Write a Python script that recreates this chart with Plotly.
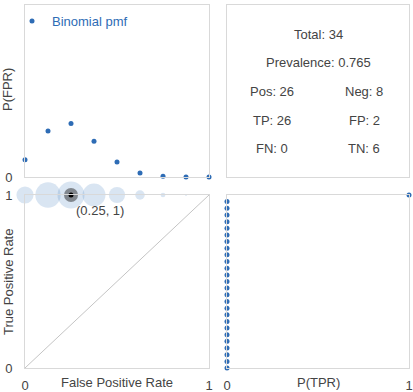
import plotly.graph_objects as go

# FPR grid (8 negatives) and its binomial pmf
fpr_vals = [0, 0.125, 0.25, 0.375, 0.5, 0.625, 0.75, 0.875, 1]
p_fpr = [0.100, 0.267, 0.311, 0.208, 0.087, 0.023, 0.004, 0.0004, 0.00002]

# TPR grid (26 positives) and its pmf
tpr_vals = [0, 0.038, 0.077, 0.115, 0.154, 0.192, 0.231, 0.269, 0.308, 0.346,
            0.385, 0.423, 0.462, 0.5, 0.538, 0.577, 0.615, 0.654, 0.692, 0.731,
            0.769, 0.808, 0.846, 0.885, 0.923, 0.962, 1]
p_tpr = [0, 0, 0, 0, 0, 0, 0, 0, 0, 0, 0, 0, 0, 0, 0, 0, 0, 0, 0, 0,
         0, 0, 0, 0, 0, 0, 1]

cur_point = (0.25, 1)
diag_x = [0, 1]
diag_y = [0, 1]

stat_left = ["Pos: 26", "TP: 26", "FN: 0"]
stat_right = ["Neg: 8", "FP: 2", "TN: 6"]
stat_top = ["Total: 34", "Prevalence: 0.765"]

BLUE = "#2e6cb5"
GRID = "#d9d9d9"
TXT = "#444"
FONT = "Arial"

W, H = 413, 392


def px_x(p):
    return p / W


def px_y(p):
    return 1 - p / H


fig = go.Figure()

# top left: P(FPR)
fig.add_trace(go.Scatter(
    x=fpr_vals, y=p_fpr, mode='markers', name='Binomial pmf',
    marker=dict(color=BLUE, size=5), cliponaxis=False,
    xaxis='x', yaxis='y', showlegend=True))

# bottom left: ROC space
fig.add_trace(go.Scatter(
    x=diag_x, y=diag_y, mode='lines', line=dict(color='#c4c4c4', width=1),
    xaxis='x3', yaxis='y3', showlegend=False, hoverinfo='skip'))

bx, by, bs = [], [], []
for i, fx in enumerate(fpr_vals):
    for j, ty in enumerate(tpr_vals):
        p = p_fpr[i] * p_tpr[j]
        if p > 0:
            bx.append(fx)
            by.append(ty)
            bs.append(43 * p ** 0.4)
fig.add_trace(go.Scatter(
    x=bx, y=by, mode='markers',
    marker=dict(color='rgba(60,120,190,0.28)', size=bs, line=dict(width=0)),
    cliponaxis=False, xaxis='x3', yaxis='y3', showlegend=False))
fig.add_trace(go.Scatter(
    x=[cur_point[0]], y=[cur_point[1]], mode='markers',
    marker=dict(color='rgba(40,40,40,0.5)', size=14, line=dict(width=0)),
    cliponaxis=False, xaxis='x3', yaxis='y3', showlegend=False))
fig.add_trace(go.Scatter(
    x=[cur_point[0]], y=[cur_point[1]], mode='markers',
    marker=dict(color='black', size=5),
    cliponaxis=False, xaxis='x3', yaxis='y3', showlegend=False))

# bottom right: P(TPR)
fig.add_trace(go.Scatter(
    x=p_tpr, y=tpr_vals, mode='markers',
    marker=dict(color=BLUE, size=5), cliponaxis=False,
    xaxis='x4', yaxis='y4', showlegend=False))

# dummy trace so the empty stats panel keeps its axes
fig.add_trace(go.Scatter(x=[None], y=[None], xaxis='x2', yaxis='y2',
                         showlegend=False))

dom_lx = [px_x(25), px_x(209)]
dom_rx = [px_x(227), px_x(409)]
dom_ty = [px_y(177), px_y(5)]
dom_by = [px_y(368), px_y(195)]

frame = dict(showline=True, linecolor=GRID, linewidth=1, mirror=True,
             showgrid=False, zeroline=False, range=[0, 1], automargin=False,
             tickfont=dict(family=FONT, size=13, color=TXT),
             tickvals=[0, 1], ticktext=['0', '1'], ticks='')

fig.update_layout(
    width=W, height=H,
    margin=dict(l=0, r=0, t=0, b=0),
    paper_bgcolor='white', plot_bgcolor='white',
    font=dict(family=FONT, size=13, color=TXT),
    xaxis=dict(frame, domain=dom_lx, anchor='y', showticklabels=False),
    yaxis=dict(frame, domain=dom_ty, anchor='x', ticklabelstandoff=9),
    xaxis2=dict(frame, domain=dom_rx, anchor='y2', showticklabels=False),
    yaxis2=dict(frame, domain=dom_ty, anchor='x2', showticklabels=False),
    xaxis3=dict(frame, domain=dom_lx, anchor='y3', ticklabelstandoff=5),
    yaxis3=dict(frame, domain=dom_by, anchor='x3', ticklabelstandoff=9),
    xaxis4=dict(frame, domain=dom_rx, anchor='y4', ticklabelstandoff=5),
    yaxis4=dict(frame, domain=dom_by, anchor='x4', showticklabels=False),
    legend=dict(x=px_x(12), y=px_y(6), xanchor='left', yanchor='top',
                bgcolor='rgba(0,0,0,0)', itemwidth=30,
                font=dict(family=FONT, size=13, color=BLUE)),
)

ann = []
# axis titles
ann.append(dict(text='P(FPR)', x=px_x(8), y=px_y(90), textangle=-90))
ann.append(dict(text='True Positive Rate', x=px_x(8), y=px_y(282), textangle=-90))
ann.append(dict(text='False Positive Rate', x=px_x(117), y=px_y(382)))
ann.append(dict(text='P(TPR)', x=px_x(318), y=px_y(382)))
# stats panel
ann.append(dict(text=stat_top[0], x=px_x(318), y=px_y(34)))
ann.append(dict(text=stat_top[1], x=px_x(318), y=px_y(62)))
for k, yy in enumerate([91, 120, 148]):
    ann.append(dict(text=stat_left[k], x=px_x(272), y=px_y(yy)))
    ann.append(dict(text=stat_right[k], x=px_x(364), y=px_y(yy)))
for a in ann:
    a.update(xref='paper', yref='paper', showarrow=False,
             xanchor='center', yanchor='middle',
             font=dict(family=FONT, size=13, color=TXT))
    fig.add_annotation(**a)

# current point label
fig.add_annotation(
    text='(%g, %g)' % cur_point, x=cur_point[0], y=cur_point[1],
    xref='x3', yref='y3', showarrow=False, xanchor='left', yanchor='top',
    xshift=3, yshift=-6, font=dict(family=FONT, size=13, color=TXT))

fig.write_html("out.html", config={'displayModeBar': False},
               post_script="document.body.style.margin='0';"
                           "document.body.style.overflow='hidden';")
